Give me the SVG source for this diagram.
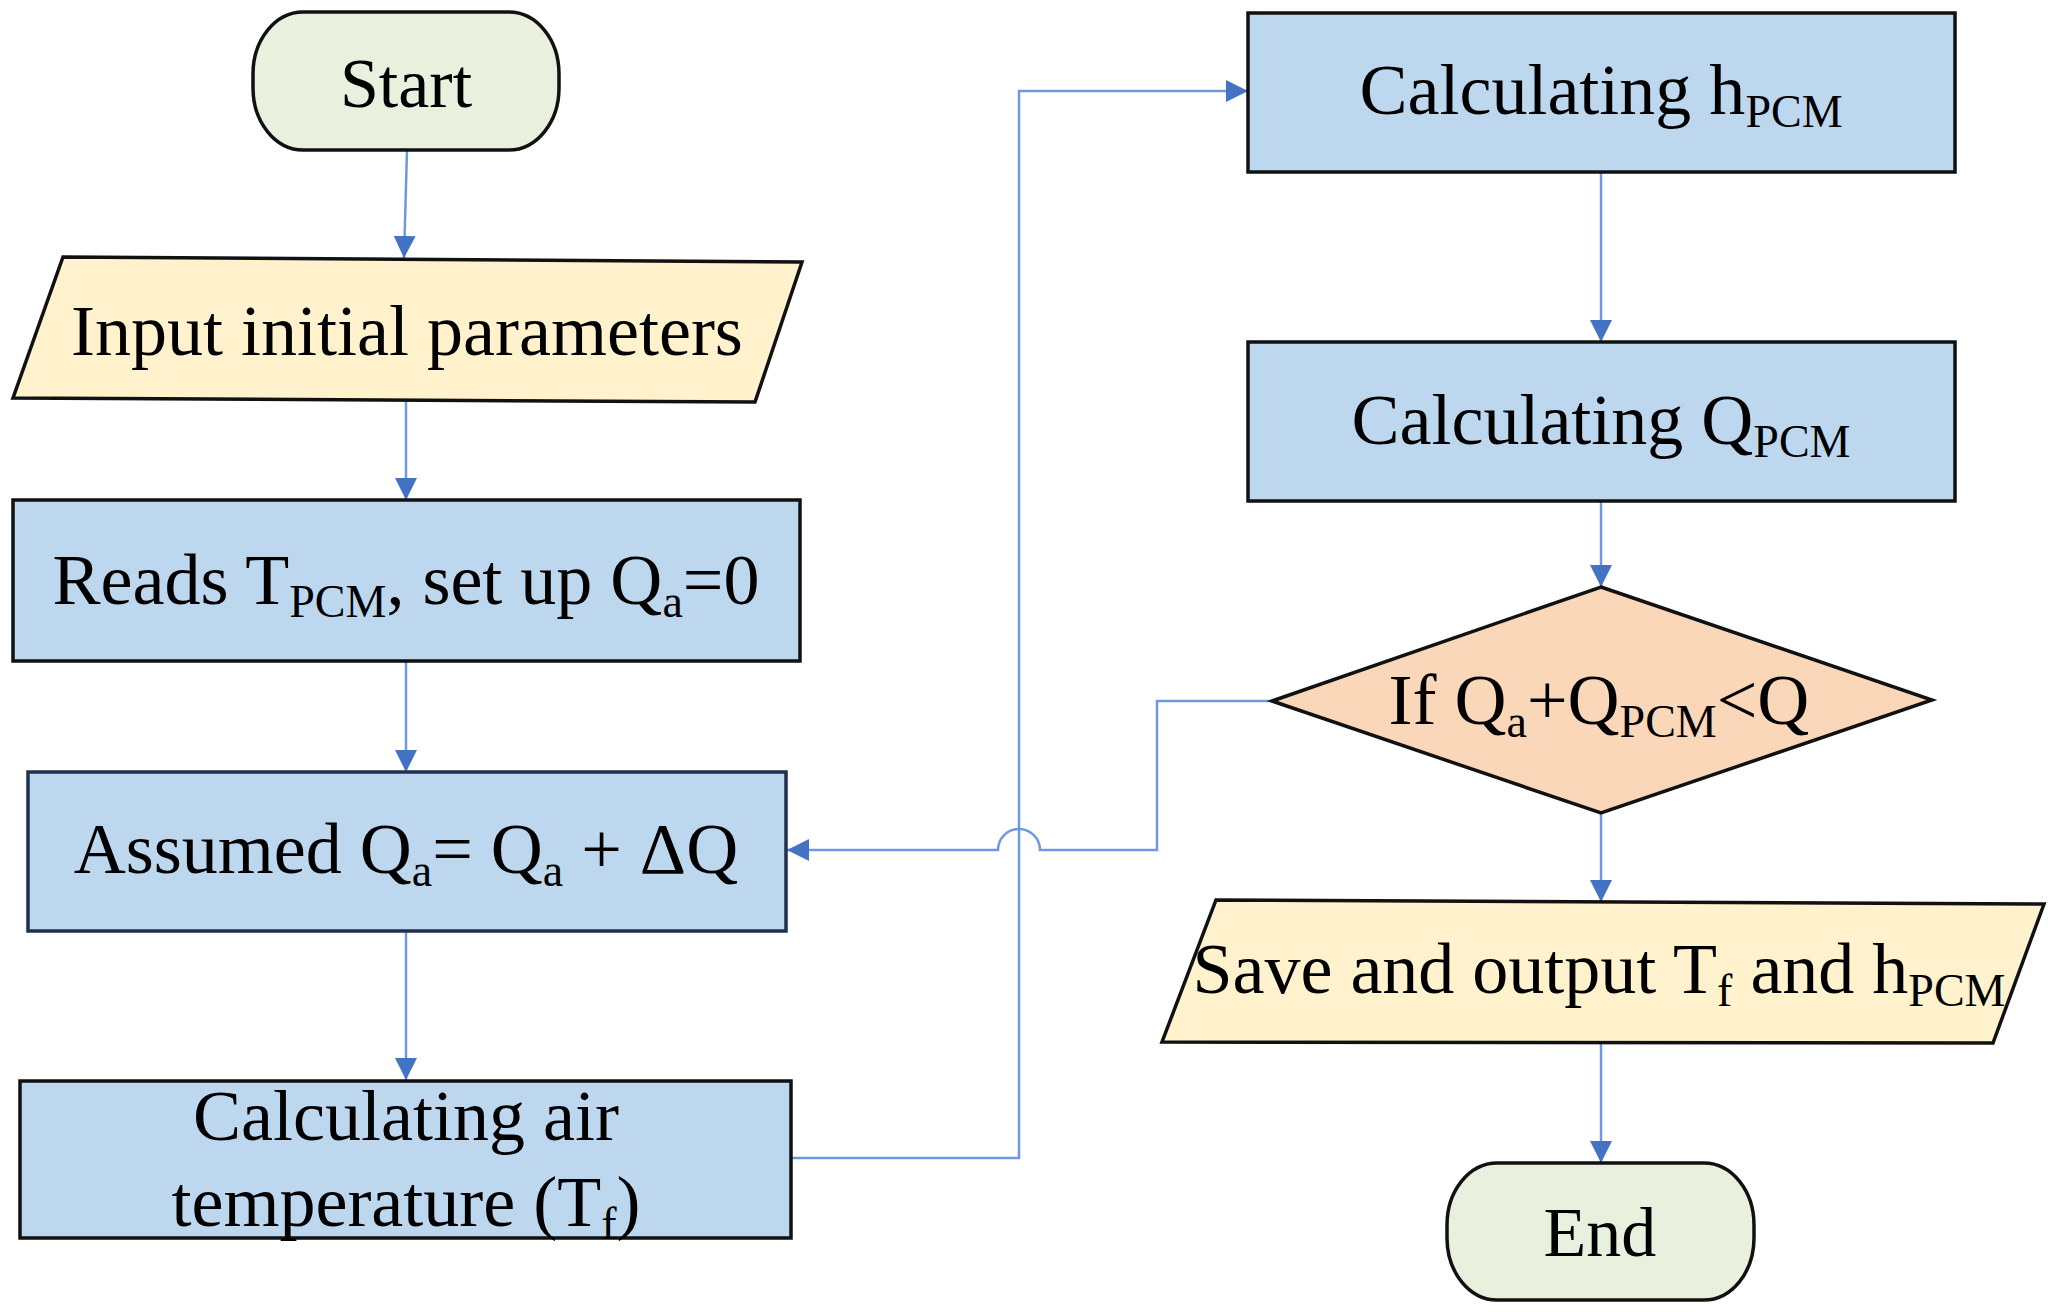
<svg xmlns="http://www.w3.org/2000/svg" width="2057" height="1312" viewBox="0 0 2057 1312">
<defs>
<marker id="arr" viewBox="0 0 22 22" refX="22" refY="11" markerWidth="22" markerHeight="22" markerUnits="userSpaceOnUse" orient="auto">
<path d="M0,0 L22,11 L0,22 Z" fill="#4472C4"/>
</marker>
<style>
text{font-family:"Liberation Serif","Times New Roman",serif;font-size:72px;fill:#000;text-anchor:middle}
.sub{font-size:46px}
.term{fill:#E9F0DE;stroke:#111;stroke-width:3.5}
.io{fill:#FFF2CC;stroke:#111;stroke-width:3.5}
.proc{fill:#BDD7EE;stroke:#111;stroke-width:3.5}
.dec{fill:#FAD7B9;stroke:#111;stroke-width:3.5}
.con{fill:none;stroke:#6E99DE;stroke-width:2.5}
.arw{marker-end:url(#arr)}
</style>
</defs>
<rect width="2057" height="1312" fill="#fff"/>

<g id="connectors">
<path class="con arw" d="M407,150 L404,258"/>
<path class="con arw" d="M406,400 L406,500"/>
<path class="con arw" d="M406,661 L406,772"/>
<path class="con arw" d="M406,931 L406,1080"/>
<path class="con arw" d="M791,1158 L1019,1158 L1019,91 L1248,91"/>
<path class="con arw" d="M1601,172 L1601,342"/>
<path class="con arw" d="M1601,501 L1601,587"/>
<path class="con arw" d="M1601,813 L1601,902"/>
<path class="con arw" d="M1601,1042 L1601,1163"/>
<path class="con arw" d="M1272,701 L1157,701 L1157,850 L1040,850 A21,21 0 0 0 998,850 L787,850"/>
</g>

<g id="start">
<rect class="term" x="253" y="12" width="306" height="138" rx="50" ry="62"/>
<text x="406" y="107" style="font-size:70px">Start</text>
</g>

<g id="input">
<polygon class="io" points="63,257 802,262 755,402 13,398"/>
<text x="407" y="355">Input initial parameters</text>
</g>

<g id="reads">
<rect class="proc" x="13" y="500" width="787" height="161"/>
<text x="406" y="604">Reads T<tspan class="sub" dy="13">PCM</tspan><tspan dy="-13">, set up Q</tspan><tspan class="sub" dy="13">a</tspan><tspan dy="-13">=0</tspan></text>
</g>

<g id="assumed">
<rect class="proc" x="28" y="772" width="758" height="159" style="stroke:#1F3050"/>
<text x="406" y="873">Assumed Q<tspan class="sub" dy="13">a</tspan><tspan dy="-13">= Q</tspan><tspan class="sub" dy="13">a</tspan><tspan dy="-13"> + ΔQ</tspan></text>
</g>

<g id="calc-air">
<rect class="proc" x="20" y="1081" width="771" height="157"/>
<text x="406" y="1140">Calculating air</text>
<text x="406" y="1226">temperature (T<tspan class="sub" dy="13">f</tspan><tspan dy="-13">)</tspan></text>
</g>

<g id="calc-h">
<rect class="proc" x="1248" y="13" width="707" height="159"/>
<text x="1601" y="114">Calculating h<tspan class="sub" dy="13">PCM</tspan></text>
</g>

<g id="calc-q">
<rect class="proc" x="1248" y="342" width="707" height="159"/>
<text x="1601" y="444">Calculating Q<tspan class="sub" dy="13">PCM</tspan></text>
</g>

<g id="decision">
<polygon class="dec" points="1601,587 1932,700 1601,813 1272,701"/>
<text x="1599" y="724">If Q<tspan class="sub" dy="13">a</tspan><tspan dy="-13">+Q</tspan><tspan class="sub" dy="13">PCM</tspan><tspan dy="-13">&lt;Q</tspan></text>
</g>

<g id="save">
<polygon class="io" points="1216,900 2044,904 1993,1043 1162,1042"/>
<text x="1599" y="993">Save and output T<tspan class="sub" dy="13">f</tspan><tspan dy="-13"> and h</tspan><tspan class="sub" dy="13">PCM</tspan></text>
</g>

<g id="end">
<rect class="term" x="1447" y="1163" width="307" height="137" rx="50" ry="62"/>
<text x="1600" y="1256" style="font-size:70px">End</text>
</g>
</svg>
